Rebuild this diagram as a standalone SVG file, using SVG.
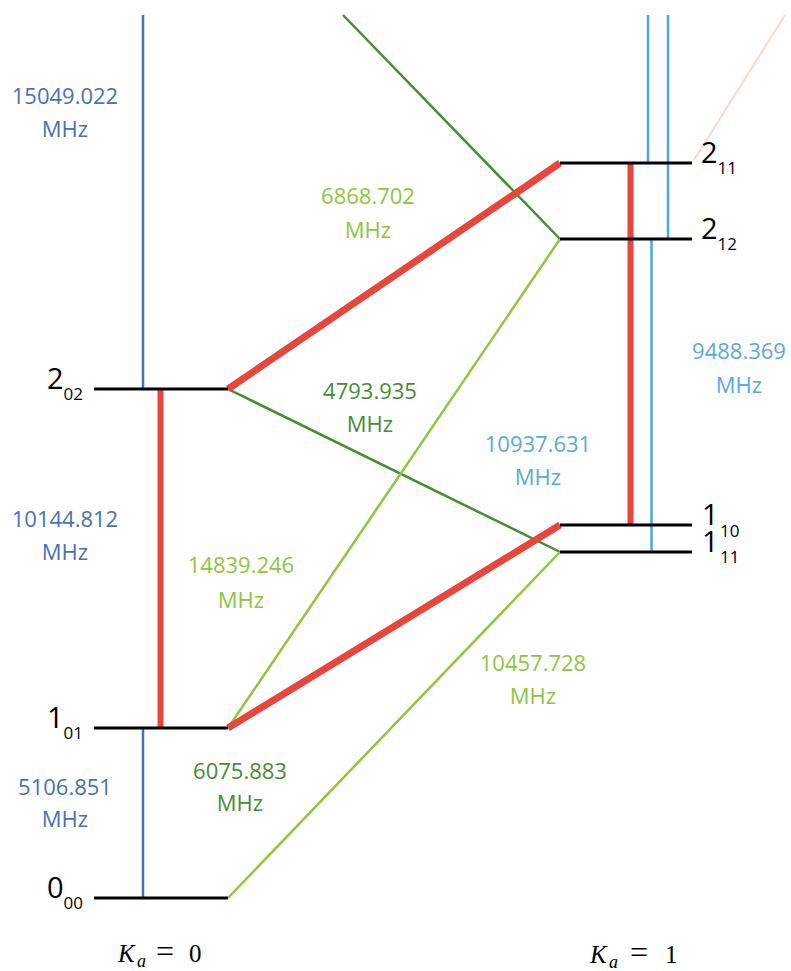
<svg xmlns="http://www.w3.org/2000/svg" width="791" height="971" viewBox="0 0 791 971">
<style>
.lvl{stroke:#000;stroke-width:3;fill:none}
.red{stroke:#e8453c;stroke-width:7;fill:none;stroke-linecap:butt}
.redv{stroke:#e8453c;stroke-width:6;fill:none}
.dg{stroke:#468c36;stroke-width:2.5;fill:none}
.lg{stroke:#8dc63f;stroke-width:2.5;fill:none}
.bl{stroke:#4a70b8;stroke-width:2.5;fill:none}
.lb{stroke:#4aa8d8;stroke-width:2.5;fill:none}
.t{font-family:"Open Sans","Liberation Sans",sans-serif;font-size:22px;text-anchor:middle}
.cb{fill:#4a70b8}.clg{fill:#8dc63f}.cdg{fill:#468c36}.clb{fill:#5aaad6}
.lab{font-family:"Open Sans","Liberation Sans",sans-serif;font-size:29px;fill:#000}
.sub{font-size:17px}
.ka{font-family:"Liberation Serif",serif;font-size:25px;fill:#000}
.kai{font-style:italic}
</style>
<rect width="791" height="971" fill="#fff"/>
<g id="connectors">
<line class="bl" x1="143" y1="15" x2="143" y2="389"/>
<line class="bl" x1="143" y1="728" x2="143" y2="898"/>
<line class="redv" x1="160.5" y1="389" x2="160.5" y2="728"/>
<line class="lb" x1="648" y1="15" x2="648" y2="163"/>
<line class="lb" x1="668" y1="15" x2="668" y2="239"/>
<line class="lb" x1="651.5" y1="239" x2="651.5" y2="552"/>
<line class="redv" x1="630.5" y1="163" x2="630.5" y2="525"/>
<line x1="694" y1="160" x2="785" y2="15" stroke="#fbd6d2" stroke-width="2"/>
<line class="dg" x1="343" y1="15" x2="560" y2="239"/>
<line class="dg" x1="228" y1="389" x2="560" y2="552"/>
<line class="lg" x1="228" y1="728" x2="560" y2="239"/>
<line class="lg" x1="228" y1="898" x2="560" y2="552"/>
<line class="red" x1="228" y1="389" x2="560" y2="163"/>
<line class="red" x1="228" y1="728" x2="560" y2="525"/>
</g>
<g id="level-202"><line class="lvl" x1="94" y1="389" x2="228" y2="389"/><text class="lab" x="47" y="389">2<tspan class="sub" dy="11">02</tspan></text></g>
<g id="level-101"><line class="lvl" x1="94" y1="728" x2="228" y2="728"/><text class="lab" x="47" y="728">1<tspan class="sub" dy="11">01</tspan></text></g>
<g id="level-000"><line class="lvl" x1="94" y1="898" x2="228" y2="898"/><text class="lab" x="47" y="898">0<tspan class="sub" dy="11">00</tspan></text></g>
<g id="level-211"><line class="lvl" x1="560" y1="163" x2="692" y2="163"/><text class="lab" x="701" y="163">2<tspan class="sub" dy="11">11</tspan></text></g>
<g id="level-212"><line class="lvl" x1="560" y1="239" x2="692" y2="239"/><text class="lab" x="701" y="239">2<tspan class="sub" dy="11">12</tspan></text></g>
<g id="level-110"><line class="lvl" x1="560" y1="525" x2="692" y2="525"/><text class="lab" x="702" y="525">1</text><text class="lab sub" x="720" y="537">10</text></g>
<g id="level-111"><line class="lvl" x1="560" y1="552" x2="692" y2="552"/><text class="lab" x="702" y="552">1</text><text class="lab sub" x="720" y="563">11</text></g>
<g id="labels">
<text class="t cb" x="65" y="104">15049.022</text><text class="t cb" x="65" y="137">MHz</text>
<text class="t cb" x="65" y="527">10144.812</text><text class="t cb" x="65" y="560">MHz</text>
<text class="t cb" x="65" y="795">5106.851</text><text class="t cb" x="65" y="827">MHz</text>
<text class="t clg" x="368" y="204">6868.702</text><text class="t clg" x="368" y="238">MHz</text>
<text class="t cdg" x="370" y="399">4793.935</text><text class="t cdg" x="370" y="432">MHz</text>
<text class="t clg" x="241" y="573">14839.246</text><text class="t clg" x="241" y="608">MHz</text>
<text class="t cdg" x="240" y="779">6075.883</text><text class="t cdg" x="240" y="811">MHz</text>
<text class="t clb" x="538" y="452">10937.631</text><text class="t clb" x="538" y="485">MHz</text>
<text class="t clb" x="739" y="359">9488.369</text><text class="t clb" x="739" y="393">MHz</text>
<text class="t clg" x="533" y="671">10457.728</text><text class="t clg" x="533" y="704">MHz</text>
</g>
<g id="ka0"><text class="ka" y="962"><tspan class="kai" x="118">K</tspan><tspan class="kai" x="137" dy="5" font-size="18">a</tspan><tspan x="156" dy="-5" font-size="32">=</tspan><tspan x="189">0</tspan></text></g>
<g id="ka1"><text class="ka" y="963"><tspan class="kai" x="590">K</tspan><tspan class="kai" x="609" dy="5" font-size="18">a</tspan><tspan x="630" dy="-5" font-size="32">=</tspan><tspan x="665">1</tspan></text></g>
</svg>
